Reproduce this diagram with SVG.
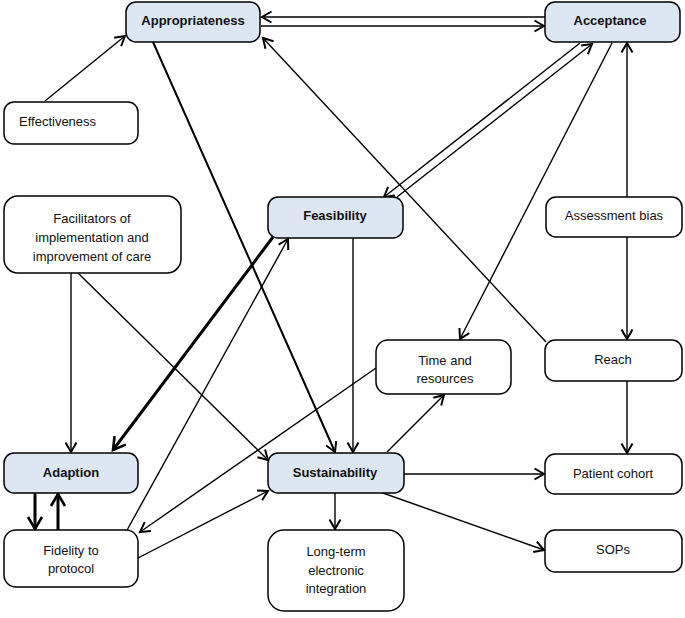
<svg xmlns="http://www.w3.org/2000/svg" width="685" height="618" viewBox="0 0 685 618">
<defs>
<marker id="arr" markerUnits="userSpaceOnUse" markerWidth="14" markerHeight="14" viewBox="0 0 14 14" refX="11" refY="7" orient="auto">
<path d="M1.5,1.5 L11,7 L1.5,12.5" fill="none" stroke="#000" stroke-width="2"/>
</marker>
<marker id="arrT" markerUnits="userSpaceOnUse" markerWidth="18" markerHeight="18" viewBox="0 0 18 18" refX="14" refY="9" orient="auto">
<path d="M2,2 L14,9 L2,16" fill="none" stroke="#000" stroke-width="2.6"/>
</marker>
<style>
.n rect{fill:#fff;stroke:#000;stroke-width:1.5}
.b rect{fill:#dde7f3}
text{font-family:"Liberation Sans",Arial,sans-serif;font-size:13px;fill:#111;text-anchor:middle}
.b text{font-weight:bold}
.c line{stroke:#000;stroke-width:1.4;fill:none;marker-end:url(#arr)}
.c line.t{stroke-width:3;marker-end:url(#arrT)}
.c line.m{stroke-width:2}
</style>
</defs>
<g id="connectors" class="c">
<line x1="545" y1="17" x2="262" y2="17"/>
<line x1="261" y1="26" x2="544" y2="26"/>
<line x1="45" y1="101" x2="125" y2="36"/>
<line class="m" x1="153" y1="42" x2="335" y2="452"/>
<line x1="546" y1="342" x2="263" y2="38"/>
<line x1="580" y1="43" x2="384" y2="197"/>
<line x1="397" y1="197" x2="592" y2="44"/>
<line x1="612" y1="43" x2="460" y2="339"/>
<line x1="627" y1="197" x2="627" y2="43"/>
<line x1="627" y1="237" x2="627" y2="339"/>
<line x1="627" y1="381" x2="627" y2="453"/>
<line x1="71" y1="273" x2="71" y2="452"/>
<line x1="78" y1="273" x2="268" y2="460"/>
<line class="t" x1="273" y1="237" x2="113" y2="450"/>
<line x1="126" y1="532" x2="288" y2="239"/>
<line x1="353" y1="238" x2="353" y2="452"/>
<line x1="376" y1="368" x2="140" y2="532"/>
<line x1="387" y1="452" x2="444" y2="395"/>
<line x1="138" y1="558" x2="268" y2="491"/>
<line class="t" x1="35" y1="493" x2="35" y2="529"/>
<line class="t" x1="58" y1="530" x2="58" y2="494"/>
<line x1="335" y1="493" x2="335" y2="529"/>
<line x1="404" y1="474" x2="544" y2="474"/>
<line x1="380" y1="492" x2="544" y2="550"/>
</g>
<g id="appropriateness" class="n b"><rect x="126" y="2" width="134" height="40" rx="10"/><text x="193" y="24.5">Appropriateness</text></g>
<g id="acceptance" class="n b"><rect x="545" y="2" width="135" height="40" rx="10"/><text x="610" y="24.5">Acceptance</text></g>
<g id="effectiveness" class="n"><rect x="4" y="102" width="134" height="42" rx="10"/><text x="19" y="125.5" style="text-anchor:start">Effectiveness</text></g>
<g id="facilitators" class="n"><rect x="4" y="196" width="177" height="77" rx="14"/><text x="92" y="222.5">Facilitators of</text><text x="92" y="241.5">implementation and</text><text x="92" y="260.5">improvement of care</text></g>
<g id="feasibility" class="n b"><rect x="268" y="197" width="135" height="41" rx="10"/><text x="335" y="219.5">Feasibility</text></g>
<g id="assessment-bias" class="n"><rect x="546" y="197" width="136" height="40" rx="10"/><text x="614" y="219.5">Assessment bias</text></g>
<g id="time-resources" class="n"><rect x="376" y="340" width="135" height="54" rx="12"/><text x="445" y="364.5">Time and</text><text x="445" y="382.5">resources</text></g>
<g id="reach" class="n"><rect x="545" y="340" width="137" height="41" rx="10"/><text x="613" y="363.5">Reach</text></g>
<g id="adaption" class="n b"><rect x="4" y="453" width="134" height="40" rx="10"/><text x="71" y="476.5">Adaption</text></g>
<g id="sustainability" class="n b"><rect x="268" y="453" width="136" height="40" rx="10"/><text x="335" y="476.5">Sustainability</text></g>
<g id="patient-cohort" class="n"><rect x="545" y="454" width="137" height="40" rx="10"/><text x="613" y="477.5">Patient cohort</text></g>
<g id="fidelity" class="n"><rect x="4" y="530" width="134" height="57" rx="12"/><text x="71" y="554.5">Fidelity to</text><text x="71" y="572.5">protocol</text></g>
<g id="long-term" class="n"><rect x="268" y="530" width="136" height="81" rx="16"/><text x="336" y="555.5">Long-term</text><text x="336" y="574.5">electronic</text><text x="336" y="592.5">integration</text></g>
<g id="sops" class="n"><rect x="545" y="530" width="137" height="42" rx="10"/><text x="613" y="553.5">SOPs</text></g>
</svg>
